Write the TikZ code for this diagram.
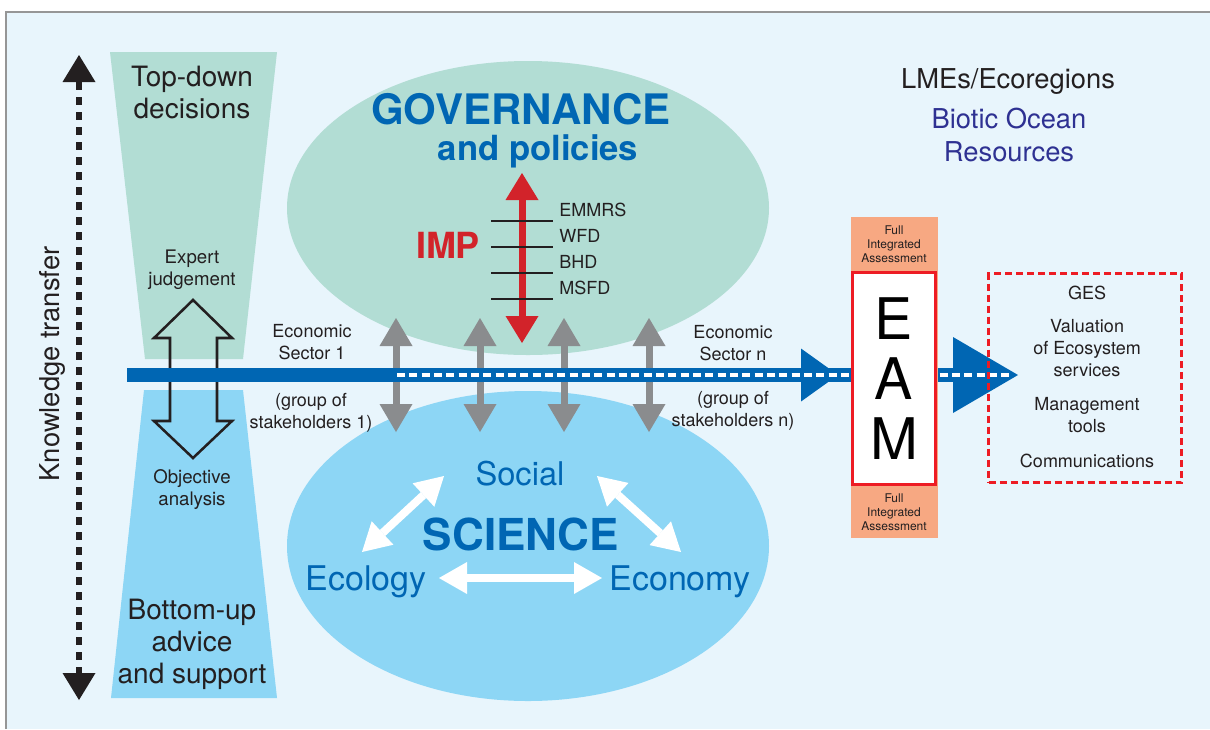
\documentclass[tikz,border=0pt]{standalone}
\usepackage{fontspec}
\setmainfont{TeX Gyre Heros}
\usepackage{xcolor}
\usetikzlibrary{arrows.meta}

\definecolor{paneback}{RGB}{232,245,252}
\definecolor{framegray}{RGB}{150,150,150}
\definecolor{govgreen}{RGB}{178,221,212}
\definecolor{scienceblue}{RGB}{141,214,245}
\definecolor{barblue}{RGB}{0,102,179}
\definecolor{impred}{RGB}{210,35,42}
\definecolor{boxred}{RGB}{237,28,36}
\definecolor{arrowgray}{RGB}{138,140,142}
\definecolor{fiaorange}{RGB}{247,168,130}
\definecolor{oceannavy}{RGB}{46,49,146}
\definecolor{inkblack}{RGB}{35,31,32}

\begin{document}
\begin{tikzpicture}[x=0.75pt,y=0.75pt,yscale=-1,xscale=1,
  txt/.style={inner sep=0pt,align=center,text=inkblack},
  grayarrow/.style={draw=arrowgray,line width=5.25pt,{Triangle[width=24.75pt,length=21pt,line width=0pt]}-{Triangle[width=24.75pt,length=21pt,line width=0pt]}},
  whitearrow/.style={draw=white,line width=6pt,{Triangle[width=24pt,length=21pt,line width=0pt]}-{Triangle[width=24pt,length=21pt,line width=0pt]}},
  redarrow/.style={draw=impred,line width=5.25pt,{Triangle[width=24.75pt,length=20.25pt,line width=0pt]}-{Triangle[width=24.75pt,length=20.25pt,line width=0pt]}},
  ktarrow/.style={draw=inkblack,line width=4.5pt,dash pattern=on 6pt off 5.25pt,{Triangle[width=24.75pt,length=20.25pt,line width=0pt]}-{Triangle[width=24.75pt,length=20.25pt,line width=0pt]}},
  bluebar/.style={draw=barblue,line width=10.5pt},
  whitedash/.style={draw=white,line width=3pt,dash pattern=on 6pt off 3.25pt},
]
\useasboundingbox (0,0) rectangle (1210,729);

%Shape: Background
\fill[paneback] (6,12) rectangle (1210,729);
\draw[framegray,line width=0.9pt] (6,729) -- (6,12) -- (1210,12);

%Shape: Trapezoid top-down
\fill[govgreen] (110,52) -- (277,52) -- (243,359) -- (145,359) -- cycle;
%Shape: Trapezoid bottom-up
\fill[scienceblue] (144,390) -- (243,390) -- (277,698) -- (111,698) -- cycle;

%Shape: Ellipse governance
\fill[govgreen] (528,208) ellipse [x radius=180.75pt, y radius=110.25pt];
%Shape: Ellipse science
\fill[scienceblue] (528,546) ellipse [x radius=180.75pt, y radius=116.25pt];

%Shape: Hollow double arrow
\draw[inkblack,line width=1.9pt] (193,300) -- (232,338) -- (217,338) -- (217,421) -- (232,421) -- (193,458) -- (154,421) -- (170,421) -- (170,338) -- (154,338) -- cycle;

%Straight Lines: knowledge transfer
\coordinate (kt-top) at (79,55);
\coordinate (kt-bot) at (79,700);
\draw[ktarrow] (kt-top) -- (kt-bot);

%Straight Lines: stakeholder links
\coordinate (g1-top) at (396,318);
\coordinate (g1-bot) at (396,432);
\coordinate (g2-top) at (480,318);
\coordinate (g2-bot) at (480,432);
\coordinate (g3-top) at (564,318);
\coordinate (g3-bot) at (564,432);
\coordinate (g4-top) at (649,318);
\coordinate (g4-bot) at (649,432);
\draw[grayarrow] (g1-top) -- (g1-bot);
\draw[grayarrow] (g2-top) -- (g2-bot);
\draw[grayarrow] (g3-top) -- (g3-bot);
\draw[grayarrow] (g4-top) -- (g4-bot);

%Straight Lines: economic sector bar
\coordinate (bar-start) at (127,375);
\coordinate (sec-tip) at (838,375);
\coordinate (eam-in) at (852,375);
\coordinate (eam-out) at (937,375);
\coordinate (res-tip) at (1018,375);
\coordinate (dash-start) at (397,375);
\coordinate (dash-end) at (1013,375);
\draw[bluebar] (bar-start) -- (eam-in);
\draw[bluebar,-{Triangle[width=39.75pt,length=27.75pt,line width=0pt]}] (bar-start) -- (sec-tip);
\draw[bluebar,-{Triangle[width=57pt,length=48.75pt,line width=0pt]}] (eam-out) -- (res-tip);
\draw[whitedash] (dash-start) -- (dash-end);

%Shape: Rectangle EAM
\node[fill=fiaorange,minimum width=65pt,minimum height=240.75pt,inner sep=0pt] (fia) at (894.3,377.2) {};
\node[draw=boxred,line width=2.25pt,fill=white,minimum width=62pt,minimum height=158.8pt,inner sep=0pt,align=center,text=black,font=\fontsize{43}{45}\selectfont] (eam) at (893.9,378.4) {E\\A\\M};

%Straight Lines: IMP
\coordinate (imp-top) at (522,173);
\coordinate (imp-bot) at (522,343);
\draw[redarrow] (imp-top) -- (imp-bot);
\draw[inkblack,line width=0.9pt] (491,221) -- (553,221);
\draw[inkblack,line width=0.9pt] (491,247) -- (553,247);
\draw[inkblack,line width=0.9pt] (491,273) -- (553,273);
\draw[inkblack,line width=0.9pt] (491,299) -- (553,299);

%Straight Lines: science triangle
\coordinate (soc-l) at (444,476);
\coordinate (ecol-t) at (362,552);
\coordinate (soc-r) at (597,476);
\coordinate (econ-t) at (681,552);
\coordinate (ecol-r) at (439,578);
\coordinate (econ-l) at (602,578);
\draw[whitearrow] (soc-l) -- (ecol-t);
\draw[whitearrow] (soc-r) -- (econ-t);
\draw[whitearrow] (ecol-r) -- (econ-l);

%Shape: Rectangle outcomes
\node[draw=boxred,line width=2.25pt,dash pattern=on 5.25pt off 3pt,minimum width=144.75pt,minimum height=156.75pt,inner sep=0pt] (res) at (1085,378) {};

% Text Node
\node[txt,font=\fontsize{21}{24}\selectfont] (topdown) at (192,92.5) {Top-down\\decisions};
% Text Node
\node[txt,font=\fontsize{14}{16.5}\selectfont] (expert) at (192,269.5) {Expert\\judgement};
% Text Node
\node[txt,font=\fontsize{14}{16.5}\selectfont] (objective) at (192,489.5) {Objective\\analysis};
% Text Node
\node[txt,font=\fontsize{21}{24}\selectfont] (bottomup) at (192,644.5) {Bottom-up\\advice\\and support};
% Text Node
\node[txt,rotate=90,font=\fontsize{20.5}{24}\selectfont] (ktlabel) at (52,364) {Knowledge transfer};
% Text Node
\node[txt,text=barblue,font=\fontsize{31.5}{36}\bfseries\selectfont] (gov) at (521,109.5) {GOVERNANCE};
% Text Node
\node[txt,text=barblue,font=\fontsize{26}{30}\bfseries\selectfont] (govsub) at (538,151) {and policies};
% Text Node
\node[txt,text=impred,font=\fontsize{27}{30}\bfseries\selectfont] (imp) at (448,245) {IMP};
% Text Node
\node[txt,anchor=west,font=\fontsize{13.5}{16}\selectfont] (emmrs) at (559,210) {EMMRS};
\node[txt,anchor=west,font=\fontsize{13.5}{16}\selectfont] (wfd) at (559,236) {WFD};
\node[txt,anchor=west,font=\fontsize{13.5}{16}\selectfont] (bhd) at (559,262) {BHD};
\node[txt,anchor=west,font=\fontsize{13.5}{16}\selectfont] (msfd) at (559,288) {MSFD};
% Text Node
\node[txt,font=\fontsize{13.5}{16.5}\selectfont] (sector1) at (312,342.5) {Economic\\Sector 1};
\node[txt,font=\fontsize{13.5}{16.5}\selectfont] (group1) at (311,412.5) {(group of\\stakeholders 1)};
\node[txt,font=\fontsize{13.5}{16.5}\selectfont] (sectorn) at (733,343) {Economic\\Sector n};
\node[txt,font=\fontsize{13.5}{16.5}\selectfont] (groupn) at (733,411) {(group of\\stakeholders n)};
% Text Node
\node[txt,font=\fontsize{20.5}{24}\selectfont] (lmes) at (1008,82) {LMEs/Ecoregions};
\node[txt,text=oceannavy,font=\fontsize{20.5}{24.75}\selectfont] (biotic) at (1009,134.5) {Biotic Ocean\\Resources};
% Text Node
\node[txt,text=barblue,font=\fontsize{24.5}{28}\selectfont] (social) at (520,473.5) {Social};
\node[txt,text=barblue,font=\fontsize{33}{38}\bfseries\selectfont] (science) at (521,534) {SCIENCE};
\node[txt,text=barblue,font=\fontsize{25.5}{28}\selectfont] (ecology) at (366,581.5) {Ecology};
\node[txt,text=barblue,font=\fontsize{25.5}{28}\selectfont] (economy) at (680,581.5) {Economy};
% Text Node
\node[txt,font=\fontsize{13.5}{16.5}\selectfont] (ges) at (1087,292.5) {GES};
\node[txt,font=\fontsize{13.5}{16.5}\selectfont] (valuation) at (1087,348.5) {Valuation\\of Ecosystem\\services};
\node[txt,font=\fontsize{13.5}{16.5}\selectfont] (mgmt) at (1087,415.5) {Management\\tools};
\node[txt,font=\fontsize{13.5}{16.5}\selectfont] (comms) at (1087,460.5) {Communications};
% Text Node
\node[txt,font=\fontsize{9}{10.7}\selectfont] (fia-top) at (894,244) {Full\\Integrated\\Assessment};
\node[txt,font=\fontsize{9}{10.7}\selectfont] (fia-bot) at (894,512) {Full\\Integrated\\Assessment};

\end{tikzpicture}
\end{document}
